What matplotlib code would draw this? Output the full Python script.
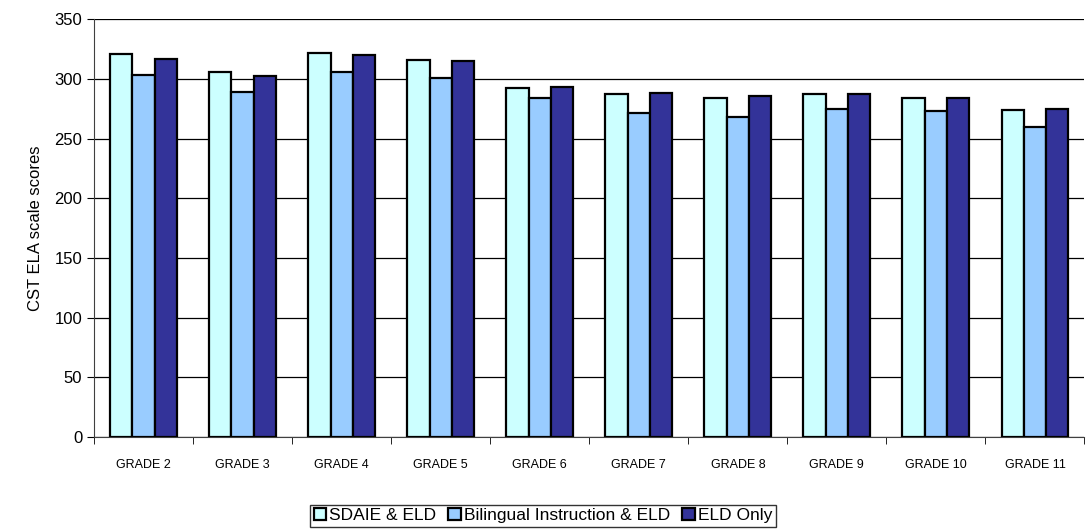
import matplotlib.pyplot as plt
import numpy as np

plt.rcParams["font.family"] = ["Liberation Sans", "DejaVu Sans"]

grades = ["GRADE 2", "GRADE 3", "GRADE 4", "GRADE 5", "GRADE 6",
          "GRADE 7", "GRADE 8", "GRADE 9", "GRADE 10", "GRADE 11"]
sdaie_eld = [321, 306, 322, 316, 292, 287, 284, 287, 284, 274]
bilingual_eld = [303, 289, 306, 301, 284, 271, 268, 275, 273, 260]
eld_only = [317, 302, 320, 315, 293, 288, 286, 287, 284, 275]

series = [
    ("SDAIE & ELD", sdaie_eld, "#CCFFFF"),
    ("Bilingual Instruction & ELD", bilingual_eld, "#99CCFF"),
    ("ELD Only", eld_only, "#333399"),
]

fig = plt.figure(figsize=(10.86, 5.31), dpi=100)
ax = fig.add_axes([0.0866, 0.177, 0.912, 0.787])

x = np.arange(len(grades))
width = 0.225
for i, (name, vals, color) in enumerate(series):
    ax.bar(x + (i - 1) * width, vals, width, color=color, edgecolor="black",
           linewidth=1.6, label=name, zorder=3)

ax.set_xlim(-0.5, len(grades) - 0.5)
ax.set_ylim(0, 350)
ax.set_yticks(np.arange(0, 351, 50))
ax.yaxis.grid(True, color="black", linewidth=0.9, zorder=0)
ax.set_axisbelow(True)

# category labels centred, tick marks on the boundaries
ax.set_xticks(x)
ax.set_xticklabels(grades, fontsize=9)
ax.tick_params(axis="x", length=0, pad=16)
ax.set_xticks(np.arange(-0.5, len(grades) + 0.5, 1), minor=True)
ax.tick_params(axis="x", which="minor", length=5, direction="out", color="black")
ax.tick_params(axis="y", labelsize=12, length=5, direction="out")

for side in ["top", "right"]:
    ax.spines[side].set_visible(False)
ax.spines["left"].set_color("#404040")
ax.spines["bottom"].set_color("#404040")

ax.set_ylabel("CST ELA scale scores", fontsize=12, labelpad=8)

leg = fig.legend(loc="center", bbox_to_anchor=(0.5, 0.029), ncol=3,
                 fontsize=12.5, frameon=True, fancybox=False,
                 handlelength=0.7, handleheight=0.7, handletextpad=0.2,
                 columnspacing=0.7, borderpad=0.2, borderaxespad=0)
leg.get_frame().set_edgecolor("black")
leg.get_frame().set_linewidth(1.0)

fig.savefig("out.png", dpi=100)
